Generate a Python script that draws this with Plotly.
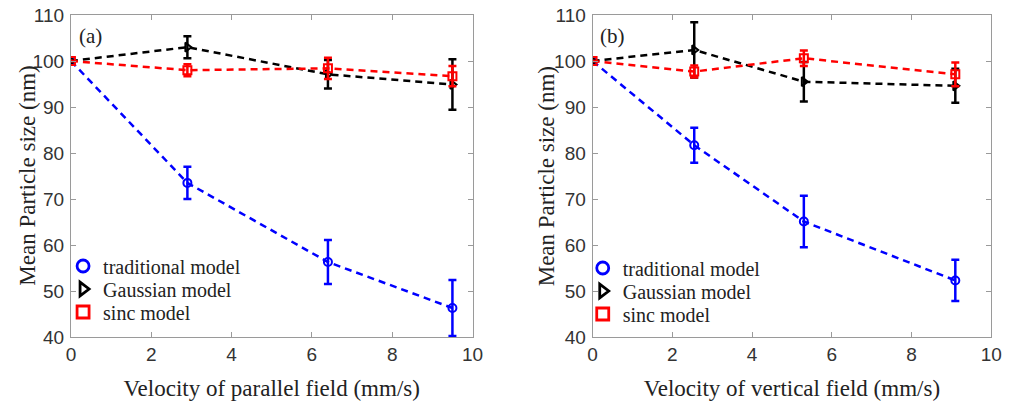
import plotly.graph_objects as go

# Velocities (mm/s) for each panel
vel_parallel = [0, 2.9, 6.4, 9.5]
vel_vertical = [0, 2.55, 5.3, 9.1]

# Panel (a): parallel field
trad_a = [100, 73.5, 56.3, 46.3]
trad_a_err = [0, 3.5, 4.8, 6.1]
gauss_a = [100, 103.0, 97.1, 94.9]
gauss_a_err = [0, 2.4, 3.1, 5.5]
sinc_a = [100, 98.0, 98.4, 96.7]
sinc_a_err = [0, 1.3, 2.3, 2.2]

# Panel (b): vertical field
trad_b = [100, 81.7, 65.1, 52.3]
trad_b_err = [0, 3.8, 5.6, 4.5]
gauss_b = [100, 102.4, 95.5, 94.6]
gauss_b_err = [0, 6.0, 4.3, 3.7]
sinc_b = [100, 97.7, 100.6, 97.1]
sinc_b_err = [0, 1.3, 1.7, 2.6]

series_names = ["traditional model", "Gaussian model", "sinc model"]
colors = ["#0000ff", "#000000", "#ff0000"]
symbols = ["circle-open", "triangle-right-open", "square-open"]
panel_labels = ["(a)", "(b)"]
x_titles = ["Velocity of parallel field (mm/s)", "Velocity of vertical field (mm/s)"]
y_title = "Mean Particle size (nm)"
y_ticks = [40, 50, 60, 70, 80, 90, 100, 110]
x_ticks = [0, 2, 4, 6, 8, 10]

W, H = 1014, 405
SERIF = "Liberation Serif, Times New Roman, serif"
SANS = "Liberation Sans, Arial, sans-serif"
TEXT = "#222222"

# plot areas in pixels
left_px = [(67, 475), (597, 1002)]
top_px, bot_px = 15, 337
mt, mb = top_px, H - bot_px
ph = H - mt - mb

# legend placement: left edge and row centres (px) for each panel
legend_left = [59, 587]
legend_rows = [[266, 289, 312], [268, 291, 314]]

fig = go.Figure()

panels = [
    ("x", "y", vel_parallel, [(trad_a, trad_a_err), (gauss_a, gauss_a_err), (sinc_a, sinc_a_err)]),
    ("x2", "y2", vel_vertical, [(trad_b, trad_b_err), (gauss_b, gauss_b_err), (sinc_b, sinc_b_err)]),
]

legend_layout = {}
leg_idx = 0
for p, (xa, ya, xs, data) in enumerate(panels):
    for (vals, errs), name, col, sym in zip(data, series_names, colors, symbols):
        fig.add_trace(go.Scatter(
            x=xs, y=vals, xaxis=xa, yaxis=ya, mode="lines+markers",
            line=dict(color=col, width=2.5, dash="7px,5px"),
            marker=dict(symbol=sym, size=8, color=col, line=dict(width=2, color=col)),
            error_y=dict(type="data", array=errs, color=col, thickness=2.5, width=4),
            showlegend=False,
        ))
    # one legend box per entry, so the rows sit closely together
    for j, (name, col, sym) in enumerate(zip(series_names, colors, symbols)):
        leg_idx += 1
        key = "legend" if leg_idx == 1 else f"legend{leg_idx}"
        fig.add_trace(go.Scatter(
            x=[None], y=[None], xaxis=xa, yaxis=ya, mode="markers", name=name,
            marker=dict(symbol=sym, size=12, color=col, line=dict(width=2.8, color=col)),
            legend=key, showlegend=True,
        ))
        legend_layout[key] = dict(
            font=dict(family=SERIF, size=20, color=TEXT),
            bgcolor="rgba(0,0,0,0)", borderwidth=0, itemwidth=30,
            x=legend_left[p] / W, y=(bot_px - legend_rows[p][j]) / ph,
            xanchor="left", yanchor="middle",
        )

axis_common = dict(
    showline=True, linecolor="#9a9a9a", linewidth=1, mirror="ticks",
    ticks="inside", ticklen=5, tickcolor="#9a9a9a",
    showgrid=False, zeroline=False,
    tickfont=dict(family=SANS, size=19, color="#333333"),
)

layout_axes = {}
for i, (l, r) in enumerate(left_px):
    suffix = "" if i == 0 else str(i + 1)
    layout_axes["xaxis" + suffix] = dict(
        axis_common, domain=[l / W, r / W], range=[0, 10], tickvals=x_ticks,
        anchor="y" + suffix,
        title=dict(text=x_titles[i], font=dict(family=SERIF, size=23, color=TEXT), standoff=16),
    )
    layout_axes["yaxis" + suffix] = dict(
        axis_common, domain=[0, 1], range=[40, 110], tickvals=y_ticks,
        anchor="x" + suffix, ticklabelstandoff=2,
    )

fig.update_layout(
    width=W, height=H,
    margin=dict(l=0, r=0, t=mt, b=mb),
    paper_bgcolor="white", plot_bgcolor="white",
    showlegend=True,
    **legend_layout,
    **layout_axes,
)

y_title_x = [22, 550]
for i, (l, r) in enumerate(left_px):
    fig.add_annotation(
        x=(l + 6) / W, y=(bot_px - 36) / ph, xref="paper", yref="paper",
        text=panel_labels[i], showarrow=False, xanchor="left", yanchor="middle",
        font=dict(family=SERIF, size=21, color=TEXT),
    )
    fig.add_annotation(
        x=y_title_x[i] / W, y=0.5, xref="paper", yref="paper",
        text=y_title, textangle=-90, showarrow=False,
        xanchor="center", yanchor="middle",
        font=dict(family=SERIF, size=23, color=TEXT),
    )

fig.write_html("out.html")
